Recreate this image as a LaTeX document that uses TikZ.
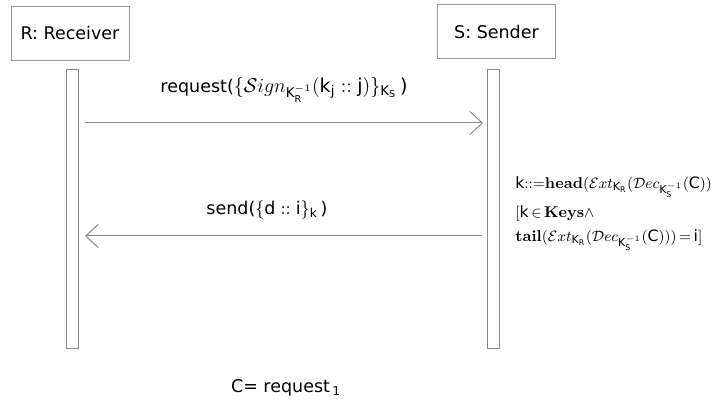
\documentclass[tikz,border=0pt]{standalone}
\usepackage{amsmath}
\usepackage{fontspec}
\setmainfont{DejaVu Sans}
\newfontfamily\lmroman{Latin Modern Roman}
\usetikzlibrary{positioning, calc, arrows.meta}
\newcommand{\kwd}[1]{\text{\lmroman\bfseries #1}}
\newcommand{\tx}[1]{\text{#1}}

\begin{document}
\begin{tikzpicture}[x=0.6pt, y=-0.6pt, >={Straight Barb[length=7.5pt, width=14pt]},
		every node/.style={font=\fontsize{10.5}{12}\selectfont, text=black}]
			\tikzstyle{actor}=[draw=gray!80, minimum width=71pt, minimum height=32.4pt, inner sep=0pt]
			\tikzstyle{lifeline}=[draw=gray!90, minimum width=7.4pt, minimum height=167pt, inner sep=0pt]
			\tikzstyle{msg}=[->, draw=gray!90, line width=0.6pt]
			\tikzstyle{guard}=[anchor=west, inner sep=0pt, font=\fontsize{9.4}{11}\selectfont]
			
			\useasboundingbox (0,0) rectangle (720,401);
			
			\node (rcv) at (70,33) [actor] {R: Receiver};
			\node (snd) at (496.5,31.5) [actor] {S: Sender};
			
			\node (rl) at (72.5,209) [lifeline] {};
			\node (sl) at (493.5,209) [lifeline] {};
			
			\coordinate (req0) at (85,123);
			\coordinate (req1) at (483,123);
			\coordinate (snd0) at (482,236);
			\coordinate (snd1) at (85,236);
			
			\draw [msg] (req0) -- (req1);
			\draw [msg] (snd0) -- (snd1);
			
			\node (reqlbl) at (284,90) {request(\fontsize{11.5}{13}\selectfont$\{\mathcal{S}ign_{\tx{K}_{\tx{R}}^{-1}}(\tx{k}_{\tx{j}} :: \tx{j})\}_{\tx{K}_{\tx{S}}}$\,)};
			\node (sndlbl) at (267,210) {send($\{\tx{d} :: \tx{i}\}_{\tx{k}}$\,)};
			
			\node (g1) at (515,187) [guard] {$\tx{k}{::=}\kwd{head}(\mathcal{E}xt_{\tx{K}_{\tx{R}}}(\mathcal{D}ec_{\tx{K}_{\tx{S}}^{-1}}(\tx{C}))$};
			\node (g2) at (515,213) [guard] {$[\tx{k}\,{\in}\,\kwd{Keys}\wedge$};
			\node (g3) at (515,240) [guard] {$\kwd{tail}(\mathcal{E}xt_{\tx{K}_{\tx{R}}}(\mathcal{D}ec_{\tx{K}_{\tx{S}}^{-1}}(\tx{C})))\,{=}\,\tx{i}]$};
			
			\node (cdef) at (286,388) {C= request$_{\,\tx{1}}$};
\end{tikzpicture}
\end{document}
